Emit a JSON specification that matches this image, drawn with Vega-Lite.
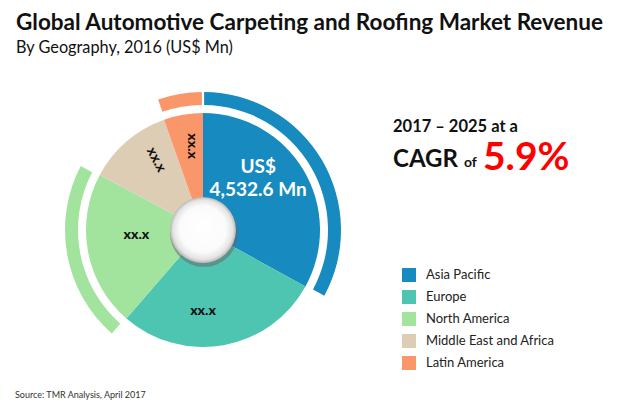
{
  "$schema": "https://vega.github.io/schema/vega-lite/v6.json",
  "width": 406,
  "height": 340,
  "autosize": {"type": "none"},
  "padding": {"left": 0, "top": 60, "right": 214, "bottom": 7},
  "background": "white",
  "config": {
    "view": {"stroke": null},
    "font": "Lato",
    "legend": {
      "orient": "none",
      "legendX": 402,
      "legendY": 208,
      "symbolType": "square",
      "symbolSize": 196,
      "symbolStrokeWidth": 0,
      "labelFont": "Lato",
      "labelFontSize": 13,
      "labelColor": "#222222",
      "rowPadding": 8,
      "labelOffset": 10
    }
  },
  "title": {
    "text": "Global Automotive Carpeting and Roofing Market Revenue",
    "subtitle": "By Geography, 2016 (US$ Mn)",
    "anchor": "start",
    "frame": "group",
    "dx": 16,
    "offset": 4,
    "font": "Lato",
    "fontSize": 22.5,
    "fontWeight": "bold",
    "color": "#111111",
    "subtitleFont": "Lato",
    "subtitleFontSize": 16.3,
    "subtitleColor": "#111111",
    "subtitlePadding": 5
  },
  "datasets": {
    "regions": [
      {"region": "Asia Pacific", "value": 4532.6, "label": "US$\n4,532.6 Mn"},
      {"region": "Europe", "value": 3890, "label": "xx.x"},
      {"region": "North America", "value": 2940, "label": "xx.x"},
      {"region": "Middle East and Africa", "value": 1620, "label": "xx.x"},
      {"region": "Latin America", "value": 742, "label": "xx.x"}
    ]
  },
  "layer": [
    {
      "data": {"name": "regions"},
      "transform": [{"window": [{"op": "row_number", "as": "idx"}]}],
      "mark": {"type": "arc", "radius": 117},
      "encoding": {
        "theta": {"field": "value", "type": "quantitative", "stack": true},
        "order": {"field": "idx", "type": "quantitative"},
        "color": {
          "field": "region",
          "type": "nominal",
          "scale": {
            "domain": ["Asia Pacific", "Europe", "North America", "Middle East and Africa", "Latin America"],
            "range": ["#178BC0", "#4EC5B1", "#A2E39E", "#DDCDB5", "#F9976A"]
          },
          "legend": {"title": null}
        }
      }
    },
    {
      "data": {"name": "regions"},
      "transform": [{"window": [{"op": "row_number", "as": "idx"}]}],
      "mark": {"type": "arc", "radius": 138, "radius2": 125, "padAngle": 0.012},
      "encoding": {
        "theta": {"field": "value", "type": "quantitative", "stack": true},
        "order": {"field": "idx", "type": "quantitative"},
        "color": {"field": "region", "type": "nominal"},
        "opacity": {
          "condition": {"test": "datum.region === 'Asia Pacific' || datum.region === 'North America' || datum.region === 'Latin America'", "value": 1},
          "value": 0
        }
      }
    },
    {
      "data": {"values": [{}]},
      "mark": {"type": "arc", "radius": 34, "theta": 0, "theta2": 6.2832, "fill": "#666666", "opacity": 0.5, "xOffset": 1, "yOffset": 3},
      "encoding": {}
    },
    {
      "data": {"values": [{}]},
      "mark": {
        "type": "arc", "radius": 33, "theta": 0, "theta2": 6.2832,
        "fill": {
          "gradient": "radial",
          "x1": 0.5, "y1": 0.45, "r1": 0,
          "x2": 0.5, "y2": 0.5, "r2": 0.5,
          "stops": [
            {"offset": 0, "color": "#ffffff"},
            {"offset": 0.7, "color": "#fbfbfb"},
            {"offset": 0.9, "color": "#e4e4e4"},
            {"offset": 1, "color": "#b8b8b8"}
          ]
        }
      },
      "encoding": {}
    },
    {
      "data": {"name": "regions"},
      "transform": [{"window": [{"op": "row_number", "as": "idx"}]}],
      "mark": {"type": "text", "radius": 80, "font": "Lato", "fontWeight": 900, "fontSize": 14, "align": "center", "baseline": "middle", "fill": "#111111", "dx": -14, "dy": 2},
      "encoding": {
        "theta": {"field": "value", "type": "quantitative", "stack": true},
        "order": {"field": "idx", "type": "quantitative"},
        "detail": {"field": "region", "type": "nominal"},
        "text": {"field": "label", "type": "nominal", "condition": {"test": "datum.region !== 'Europe'", "value": ""}}
      }
    },
    {
      "data": {"name": "regions"},
      "transform": [{"window": [{"op": "row_number", "as": "idx"}]}],
      "mark": {"type": "text", "radius": 80, "font": "Lato", "fontWeight": 900, "fontSize": 14, "align": "center", "baseline": "middle", "fill": "#111111", "dx": 12, "dy": -10},
      "encoding": {
        "theta": {"field": "value", "type": "quantitative", "stack": true},
        "order": {"field": "idx", "type": "quantitative"},
        "detail": {"field": "region", "type": "nominal"},
        "text": {"field": "label", "type": "nominal", "condition": {"test": "datum.region !== 'North America'", "value": ""}}
      }
    },
    {
      "data": {"name": "regions"},
      "transform": [{"window": [{"op": "row_number", "as": "idx"}]}],
      "mark": {"type": "text", "radius": 80, "font": "Lato", "fontWeight": 900, "fontSize": 14, "align": "center", "baseline": "middle", "fill": "#111111", "angle": 62, "dx": -6, "dy": -9},
      "encoding": {
        "theta": {"field": "value", "type": "quantitative", "stack": true},
        "order": {"field": "idx", "type": "quantitative"},
        "detail": {"field": "region", "type": "nominal"},
        "text": {"field": "label", "type": "nominal", "condition": {"test": "datum.region !== 'Middle East and Africa'", "value": ""}}
      }
    },
    {
      "data": {"name": "regions"},
      "transform": [{"window": [{"op": "row_number", "as": "idx"}]}],
      "mark": {"type": "text", "radius": 80, "font": "Lato", "fontWeight": 900, "fontSize": 14, "align": "center", "baseline": "middle", "fill": "#111111", "angle": 90, "dx": -5, "dy": -3},
      "encoding": {
        "theta": {"field": "value", "type": "quantitative", "stack": true},
        "order": {"field": "idx", "type": "quantitative"},
        "detail": {"field": "region", "type": "nominal"},
        "text": {"field": "label", "type": "nominal", "condition": {"test": "datum.region !== 'Latin America'", "value": ""}}
      }
    },
    {
      "data": {"name": "regions"},
      "transform": [{"window": [{"op": "row_number", "as": "idx"}]}],
      "mark": {"type": "text", "radius": 78, "font": "Lato", "fontWeight": "bold", "fontSize": 19, "lineHeight": 23, "lineBreak": "\n", "align": "center", "baseline": "middle", "fill": "#ffffff", "dx": -12, "dy": -23},
      "encoding": {
        "theta": {"field": "value", "type": "quantitative", "stack": true},
        "order": {"field": "idx", "type": "quantitative"},
        "detail": {"field": "region", "type": "nominal"},
        "text": {"field": "label", "type": "nominal", "condition": {"test": "datum.region !== 'Asia Pacific'", "value": ""}}
      }
    },
    {
      "data": {"values": [{"t": "2017 – 2025 at a"}]},
      "mark": {"type": "text", "x": 393, "y": 72, "align": "left", "baseline": "alphabetic", "font": "Lato", "fontWeight": "bold", "fontSize": 16.5, "fill": "#111111"},
      "encoding": {"text": {"field": "t"}}
    },
    {
      "data": {"values": [{"t": "CAGR"}]},
      "mark": {"type": "text", "x": 393, "y": 107, "align": "left", "baseline": "alphabetic", "font": "Lato", "fontWeight": "bold", "fontSize": 24, "fill": "#111111"},
      "encoding": {"text": {"field": "t"}}
    },
    {
      "data": {"values": [{"t": "of"}]},
      "mark": {"type": "text", "x": 464, "y": 107, "align": "left", "baseline": "alphabetic", "font": "Lato", "fontWeight": "bold", "fontSize": 14, "fill": "#111111"},
      "encoding": {"text": {"field": "t"}}
    },
    {
      "data": {"values": [{"t": "5.9%"}]},
      "mark": {"type": "text", "x": 483, "y": 110, "align": "left", "baseline": "alphabetic", "font": "Lato", "fontWeight": "bold", "fontSize": 39, "fill": "#FF0000"},
      "encoding": {"text": {"field": "t"}}
    },
    {
      "data": {"values": [{"t": "Source: TMR Analysis, April 2017"}]},
      "mark": {"type": "text", "x": 15, "y": 338, "align": "left", "baseline": "alphabetic", "font": "Lato", "fontSize": 9, "fill": "#333333"},
      "encoding": {"text": {"field": "t"}}
    }
  ]
}
